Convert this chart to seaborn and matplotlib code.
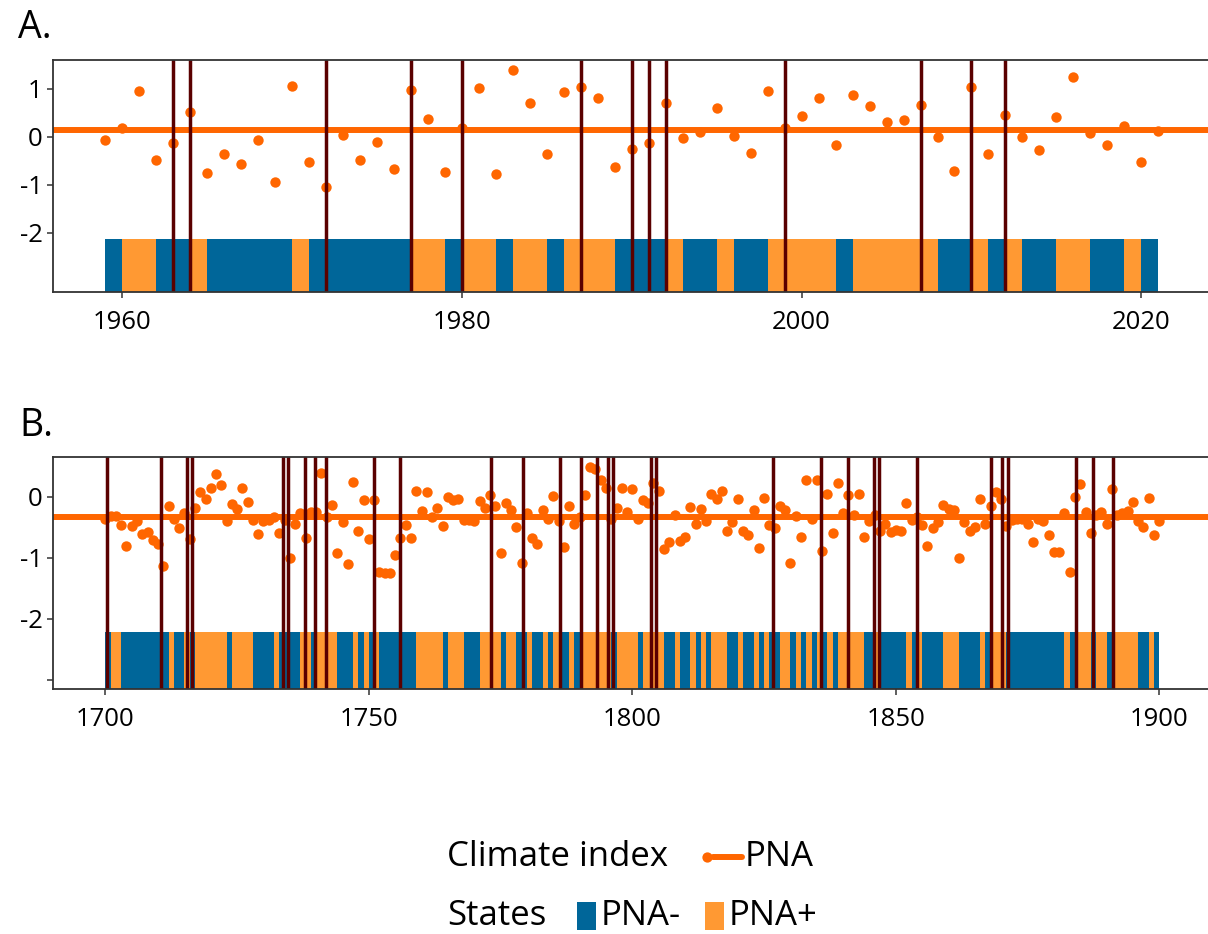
import numpy as np
import matplotlib
matplotlib.use("Agg")
import matplotlib.pyplot as plt
from matplotlib.lines import Line2D
from matplotlib.patches import Rectangle
import seaborn as sns

# ---------------------------------------------------------------- data
# Panel A: instrumental PNA index, 1959-2021
years_a = np.arange(1959, 2022)
pna_a = [
    -0.06, 0.19, 0.96, -0.49, -0.12, 0.53, -0.76, -0.36, -0.57, -0.06,
    -0.94, 1.06, -0.52, -1.04, 0.04, -0.48, -0.11, -0.66, 0.97, 0.37,
    -0.72, 0.19, 1.03, -0.77, 1.40, 0.70, -0.35, 0.93, 1.04, 0.81,
    -0.62, -0.25, -0.13, 0.70, -0.02, 0.10, 0.60, 0.02, -0.34, 0.95,
    0.18, 0.44, 0.81, -0.17, 0.88, 0.65, 0.32, 0.35, 0.67, -0.01,
    -0.70, 1.05, -0.35, 0.45, 0.00, -0.27, 0.41, 1.25, 0.08, -0.16,
    0.22, -0.52, 0.12,
]
mean_a = 0.14
# state of each year 1959-2020 ("-" = PNA-, "+" = PNA+)
states_a = ("-"
            "++--+-----" "+------++-" "++-++-+++-"
            "--+--+--++" "++-+++++--" "+-+--++--+-")
events_a = [1963, 1964, 1972, 1977, 1980, 1987, 1990, 1991, 1992,
            1999, 2007, 2010, 2012]

# Panel B: reconstructed PNA index, 1700-1900
years_b = np.arange(1700, 1901)
pna_b = [
    -0.36, -0.32, -0.32, -0.47, -0.80, -0.48, -0.40, -0.61, -0.58, -0.71,
    -0.78, -1.13, -0.15, -0.36, -0.51, -0.26, -0.69, -0.19, 0.07, -0.03,
    0.14, 0.37, 0.19, -0.40, -0.12, -0.20, 0.15, -0.09, -0.38, -0.61,
    -0.40, -0.38, -0.33, -0.60, -0.38, -1.01, -0.44, -0.26, -0.67, -0.25,
    -0.25, 0.39, -0.33, -0.13, -0.93, -0.41, -1.10, 0.24, -0.56, -0.05,
    -0.69, -0.05, -1.23, -1.25, -1.25, -0.96, -0.68, -0.46, -0.67, 0.09,
    -0.24, 0.07, -0.34, -0.19, -0.48, 0.00, -0.05, -0.03, -0.38, -0.38,
    -0.40, -0.07, -0.18, 0.02, -0.15, -0.93, -0.11, -0.21, -0.50, -1.09,
    -0.26, -0.68, -0.77, -0.22, -0.37, 0.01, -0.40, -0.83, -0.16, -0.45,
    -0.33, 0.03, 0.48, 0.45, 0.27, 0.15, -0.36, -0.19, 0.15, -0.25,
    0.12, -0.37, -0.05, -0.11, 0.22, 0.10, -0.85, -0.74, -0.30, -0.72,
    -0.66, -0.17, -0.44, -0.20, -0.40, 0.04, -0.04, 0.09, -0.57, -0.42,
    -0.04, -0.56, -0.63, -0.21, -0.84, -0.02, -0.46, -0.51, -0.15, -0.22,
    -1.09, -0.32, -0.66, 0.27, -0.37, 0.27, -0.89, 0.04, -0.60, 0.23,
    -0.27, 0.02, -0.30, 0.05, -0.66, -0.39, -0.30, -0.57, -0.44, -0.58,
    -0.55, -0.57, -0.11, -0.38, -0.33, -0.46, -0.80, -0.51, -0.42, -0.14,
    -0.20, -0.21, -1.01, -0.41, -0.57, -0.49, -0.03, -0.44, -0.15, 0.07,
    -0.04, -0.48, -0.38, -0.36, -0.36, -0.45, -0.75, -0.36, -0.40, -0.63,
    -0.91, -0.91, -0.27, -1.23, 0.00, 0.21, -0.25, -0.59, -0.30, -0.25,
    -0.44, 0.13, -0.30, -0.27, -0.23, -0.08, -0.40, -0.49, -0.02, -0.63,
    -0.40,
]
mean_b = -0.34
# state of each year 1700-1899
states_b = (
    "-++-------" "--+--+-+++" "+++-++++--" "--+----++-" "++++---+-+"
    "-+-------+" "++++-+++--" "-++++-++--" "+--+-+--+-" "++++++-+++"
    "+-++++--+-" "-+-+-+++--" "+--+-+--++" "-+-+-+-+-+" "++++--+---"
    "--+-+----+" "++----+-++" "+---------" "--+-+++-++" "-+++++--+-"
)
events_b = [1700.3, 1710.5, 1715.4, 1716.5, 1733.7, 1734.7, 1737.9, 1739.7,
            1741.8, 1751.0, 1755.9, 1773.2, 1779.2, 1786.2, 1790.3, 1793.2,
            1795.3, 1796.3, 1803.5, 1804.5, 1826.7, 1835.8, 1840.9, 1845.9,
            1846.9, 1854.0, 1868.1, 1870.1, 1871.2, 1884.1, 1887.4, 1891.3]

xticks_a = [1960, 1980, 2000, 2020]
yticks_a = [1, 0, -1, -2]
xticks_b = [1700, 1750, 1800, 1850, 1900]
yticks_b = [0, -1, -2, -3]
ylabels_b = ["0", "-1", "-2", ""]

# ---------------------------------------------------------------- style
POINT = "#FF6600"
NEG = "#006699"
POS = "#FF9933"
EVENT = "#5A0000"
AXIS = "#333333"

sns.set_theme(style="white")
plt.rcParams["font.family"] = ["Open Sans", "DejaVu Sans"]
plt.rcParams["axes.unicode_minus"] = False
plt.rcParams["text.color"] = "black"

W, H = 1208, 934
fig = plt.figure(figsize=(W / 100, H / 100), dpi=100)
fig.patch.set_facecolor("white")


def rect_px(left, top, right, bottom):
    return [left / W, 1 - bottom / H, (right - left) / W, (bottom - top) / H]


def panel(ax, years, values, mean, states, events, xlim, ylim, strip_top,
          xticks, yticks, ylabels):
    ax.set_xlim(*xlim)
    ax.set_ylim(*ylim)
    sns.scatterplot(x=years, y=values, ax=ax, color=POINT, s=56,
                    linewidth=0, zorder=2, legend=False)
    ax.axhline(mean, color=POINT, lw=4.3, zorder=3)
    seg_years = years[:-1]
    colors = [POS if s == "+" else NEG for s in states]
    ax.bar(seg_years, strip_top - ylim[0], bottom=ylim[0], width=1.0,
           align="edge", color=colors, linewidth=0, zorder=3)
    for e in events:
        ax.axvline(e, color=EVENT, lw=2.5, zorder=4)
    ax.set_xticks(xticks)
    ax.set_yticks(yticks)
    ax.set_yticklabels(ylabels)
    ax.set_xlabel("")
    ax.set_ylabel("")
    for sp in ax.spines.values():
        sp.set_color(AXIS)
        sp.set_linewidth(1.3)
        sp.set_zorder(5)
    ax.tick_params(axis="both", direction="out", length=4, width=1.1,
                   color=AXIS, labelcolor="black", labelsize=18.5,
                   bottom=True, left=True)
    ax.tick_params(axis="x", pad=9)
    ax.tick_params(axis="y", pad=3)
    ax.grid(False)
    ax.set_facecolor("white")


ax_a = fig.add_axes(rect_px(52.5, 59.7, 1211, 292))
panel(ax_a, years_a, pna_a, mean_a, states_a, events_a,
      (1955.9, 2024.1), (-3.23, 1.61), -2.12,
      xticks_a, yticks_a, [str(v) for v in yticks_a])

ax_b = fig.add_axes(rect_px(52.7, 457.3, 1212, 689.3))
panel(ax_b, years_b, pna_b, mean_b, states_b, events_b,
      (1690, 1910), (-3.157, 0.646), -2.21,
      xticks_b, yticks_b, ylabels_b)

# panel tags
fig.text(18 / W, 1 - 28 / H, "A.", fontsize=27, va="center", ha="left")
fig.text(19 / W, 1 - 426 / H, "B.", fontsize=27, va="center", ha="left")


# ---------------------------------------------------------------- legend
def fx(x):
    return x / W


def fy(y):
    return 1 - y / H


row1, row2 = 857, 916
fig.text(fx(447), fy(row1), "Climate index", fontsize=25, va="center",
         ha="left")
fig.add_artist(Line2D([fx(713), fx(742)], [fy(row1), fy(row1)],
                      color=POINT, lw=4.3, transform=fig.transFigure))
fig.add_artist(Line2D([fx(707)], [fy(row1)], marker="o", ms=7.4,
                      color=POINT, markeredgewidth=0, linestyle="none",
                      transform=fig.transFigure))
fig.text(fx(745), fy(row1), "PNA", fontsize=25, va="center", ha="left")

fig.text(fx(447), fy(row2), "States", fontsize=25, va="center", ha="left")
for x0, col, lab in [(577, NEG, "PNA-"), (705, POS, "PNA+")]:
    fig.add_artist(Rectangle((fx(x0), fy(930)), 19 / W, 28 / H,
                             facecolor=col, edgecolor="none",
                             transform=fig.transFigure))
    fig.text(fx(x0 + 24), fy(row2), lab, fontsize=25, va="center",
             ha="left")

fig.savefig("out.png", dpi=100, facecolor="white")
